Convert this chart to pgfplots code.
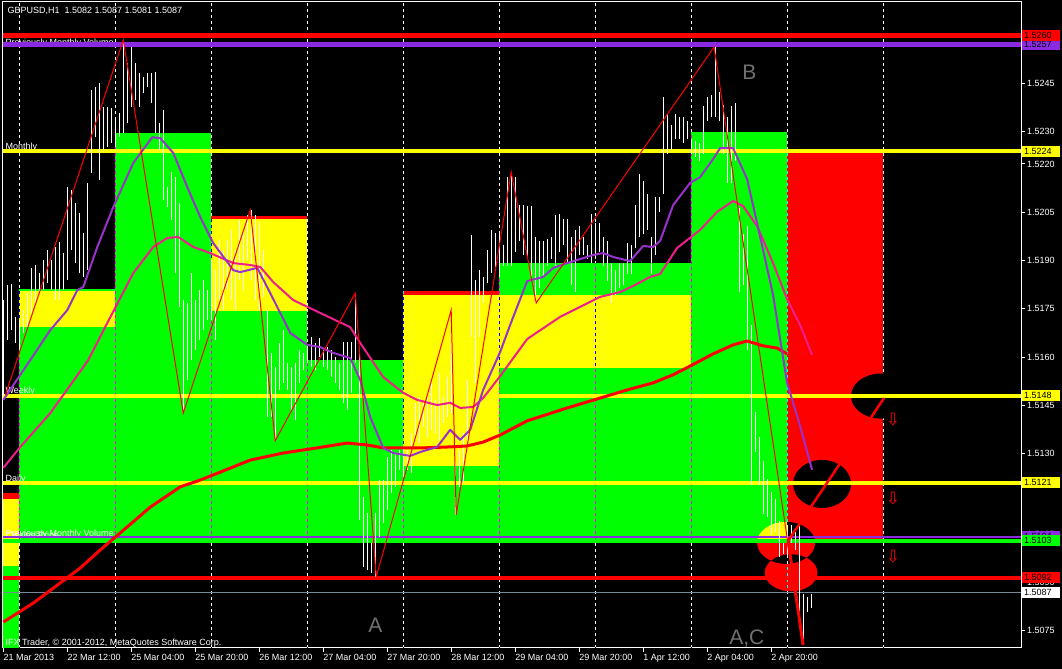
\documentclass[border=0pt]{standalone}
\usepackage{fontspec}
\setmainfont{Liberation Sans}
\newfontfamily\symfont{DejaVu Sans}
\usepackage{pgfplots}
\usepackage{pgfplotstable}
\pgfplotsset{compat=1.18}
\definecolor{mtgreen}{RGB}{0,255,0}
\definecolor{mtyellow}{RGB}{255,255,0}
\definecolor{mtred}{RGB}{255,0,0}
\definecolor{mtviolet}{RGB}{138,43,226}
\definecolor{maviolet}{RGB}{153,50,204}
\definecolor{mapink}{RGB}{240,30,140}
\definecolor{bidgray}{RGB}{119,136,153}
\definecolor{lblgray}{RGB}{112,112,112}
\newcommand{\sm}{\fontsize{9}{10}\selectfont}

% hourly bars: bar index, low, high
\pgfplotstableread{
b lo hi
0 1.51482 1.51776
1 1.51653 1.51824
2 1.51684 1.51827
3 1.51644 1.51724
4 1.51622 1.51715
5 1.51675 1.51746
6 1.51694 1.51799
7 1.51737 1.51877
8 1.51756 1.51886
9 1.51799 1.51861
10 1.51808 1.51902
11 1.51830 1.51933
12 1.51808 1.51902
13 1.51777 1.51942
14 1.51777 1.51957
15 1.51808 1.51923
16 1.51839 1.52128
17 1.51933 1.52119
18 1.51892 1.52079
19 1.51861 1.52047
20 1.51849 1.51985
21 1.51870 1.52141
22 1.52172 1.52429
23 1.52283 1.52439
24 1.52150 1.52451
25 1.52243 1.52377
26 1.52253 1.52377
27 1.52265 1.52374
28 1.52253 1.52346
29 1.52283 1.52358
30 1.52296 1.52585
31 1.52327 1.52513
32 1.52377 1.52563
33 1.52398 1.52513
34 1.52377 1.52482
35 1.52420 1.52470
36 1.52439 1.52482
37 1.52389 1.52482
38 1.52296 1.52485
39 1.52243 1.52327
40 1.52088 1.52367
41 1.52066 1.52128
42 1.52026 1.52175
43 1.51861 1.52159
44 1.51756 1.52079
45 1.51426 1.51777
46 1.51529 1.51768
47 1.51591 1.51861
48 1.51622 1.51777
49 1.51653 1.51808
50 1.51684 1.51839
51 1.51715 1.51808
52 1.51715 1.51902
53 1.51653 1.51870
54 1.51777 1.51964
55 1.51746 1.51933
56 1.51808 1.51964
57 1.51777 1.51995
58 1.51746 1.51933
59 1.51839 1.52026
60 1.51808 1.51995
61 1.51902 1.52041
62 1.51839 1.52057
63 1.51777 1.52041
64 1.51746 1.52020
65 1.51787 1.51933
66 1.51414 1.51746
67 1.51414 1.51613
68 1.51340 1.51569
69 1.51498 1.51644
70 1.51520 1.51684
71 1.51498 1.51582
72 1.51436 1.51569
73 1.51405 1.51582
74 1.51520 1.51622
75 1.51560 1.51613
76 1.51582 1.51631
77 1.51569 1.51662
78 1.51560 1.51644
79 1.51600 1.51659
80 1.51569 1.51622
81 1.51560 1.51631
82 1.51538 1.51622
83 1.51520 1.51600
84 1.51498 1.51582
85 1.51458 1.51647
86 1.51436 1.51647
87 1.51489 1.51647
88 1.51582 1.51796
89 1.51094 1.51622
90 1.50948 1.51166
91 1.50939 1.51116
92 1.50930 1.51023
93 1.50917 1.51116
94 1.51041 1.51218
95 1.51085 1.51218
96 1.51125 1.51290
97 1.51178 1.51312
98 1.51197 1.51302
99 1.51250 1.51312
100 1.51228 1.51321
101 1.51250 1.51312
102 1.51240 1.51364
103 1.51343 1.51458
104 1.51333 1.51476
105 1.51383 1.51458
106 1.51352 1.51476
107 1.51374 1.51520
108 1.51364 1.51467
109 1.51343 1.51551
110 1.51395 1.51476
111 1.51414 1.51538
112 1.51426 1.51746
113 1.51110 1.51271
114 1.51197 1.51312
115 1.51209 1.51364
116 1.51343 1.51529
117 1.51662 1.51979
118 1.51520 1.51839
119 1.51662 1.51870
120 1.51768 1.51849
121 1.51830 1.51933
122 1.51861 1.51995
123 1.51880 1.51985
124 1.51849 1.51985
125 1.51883 1.51948
126 1.51883 1.52159
127 1.51883 1.52172
128 1.51926 1.52159
129 1.51961 1.52072
130 1.51917 1.52072
131 1.51905 1.52069
132 1.51836 1.52069
133 1.51768 1.51973
134 1.51815 1.51961
135 1.51849 1.51961
136 1.51883 1.51967
137 1.51905 1.51973
138 1.51883 1.52041
139 1.51926 1.52044
140 1.51948 1.52029
141 1.51892 1.52029
142 1.51824 1.51973
143 1.51802 1.51995
144 1.51917 1.52007
145 1.51917 1.51973
146 1.51905 1.51948
147 1.51892 1.52044
148 1.51905 1.52016
149 1.51926 1.52016
150 1.51883 1.51973
151 1.51836 1.51961
152 1.51768 1.51892
153 1.51793 1.51870
154 1.51815 1.51892
155 1.51824 1.51892
156 1.51858 1.51954
157 1.51858 1.51948
158 1.51939 1.52072
159 1.51973 1.52169
160 1.51982 1.52147
161 1.51995 1.52107
162 1.51858 1.51973
163 1.51917 1.52097
164 1.52051 1.52097
165 1.52107 1.52408
166 1.52231 1.52355
167 1.52243 1.52321
168 1.52277 1.52355
169 1.52277 1.52346
170 1.52265 1.52346
171 1.52277 1.52333
172 1.52231 1.52277
173 1.52221 1.52271
174 1.52209 1.52265
175 1.52231 1.52380
176 1.52333 1.52408
177 1.52346 1.52414
178 1.52346 1.52563
179 1.52333 1.52423
180 1.52231 1.52383
181 1.52141 1.52346
182 1.52141 1.52380
183 1.52209 1.52389
184 1.51802 1.52063
185 1.51824 1.51982
186 1.51622 1.52007
187 1.51203 1.51700
188 1.51305 1.51430
189 1.51203 1.51352
190 1.51113 1.51278
191 1.51104 1.51221
192 1.51048 1.51181
193 1.51057 1.51159
194 1.50979 1.51091
195 1.50989 1.51023
196 1.50979 1.51069
197 1.51023 1.51079
198 1.51001 1.51057
199 1.50799 1.51079
200 1.50706 1.50864
201 1.50808 1.50855
202 1.50821 1.50864
}\bars

\pgfplotstableread{
b p
0 1.51467
6.75 1.51591
11.75 1.51684
16 1.51746
18.5 1.51808
20 1.51818
23.5 1.51942
27.5 1.52066
32.5 1.52203
37.25 1.52283
39.25 1.52280
42.5 1.52234
46 1.52128
49.25 1.52035
52.5 1.51954
57.5 1.51870
59.25 1.51864
63.5 1.51877
66.75 1.51799
71.75 1.51675
76 1.51638
79.25 1.51631
82.5 1.51613
86.75 1.51597
89.25 1.51529
91.75 1.51414
95 1.51318
97.5 1.51302
101.75 1.51293
104.25 1.51305
108.5 1.51321
111.75 1.51374
114.25 1.51343
116.75 1.51374
120 1.51498
124.25 1.51616
126.75 1.51700
131 1.51836
135 1.51849
137.5 1.51877
141 1.51892
147.5 1.51917
150 1.51923
152.5 1.51911
156.75 1.51898
160 1.51945
162.5 1.51942
164.25 1.51961
167.5 1.52072
171.75 1.52141
174.25 1.52159
177.5 1.52215
179.25 1.52249
182.5 1.52249
186 1.52153
188.5 1.52016
192.5 1.51793
196 1.51520
199.25 1.51386
202.25 1.51250
}\mafast

\pgfplotstableread{
b p
0 1.51256
4.25 1.51321
11.75 1.51426
21.25 1.51591
26 1.51706
32.5 1.51861
37.5 1.51942
41 1.51970
43.75 1.51973
47.5 1.51942
51.75 1.51923
57.5 1.51892
61.75 1.51886
64.25 1.51880
67.5 1.51833
72.5 1.51777
79.25 1.51737
86.75 1.51693
89.25 1.51644
95 1.51538
100 1.51489
103.5 1.51467
108.5 1.51451
111.75 1.51458
114.25 1.51442
117.5 1.51445
120 1.51473
124.25 1.51541
131 1.51656
139.25 1.51725
149.25 1.51787
154.25 1.51802
157.5 1.51821
161.75 1.51849
164.25 1.51858
168.5 1.51939
174.25 1.51995
178.5 1.52051
182.5 1.52085
185 1.52069
188.5 1.52007
192.5 1.51892
196 1.51780
199.25 1.51700
202.25 1.51607
}\mamid

\pgfplotstableread{
b p
0 1.50777
7.5 1.50836
19.25 1.50945
24.25 1.51001
29.25 1.51054
36.75 1.51134
44.25 1.51197
49.25 1.51218
61.75 1.51280
70 1.51302
78.5 1.51318
86 1.51333
91 1.51327
95 1.51318
105 1.51318
111.75 1.51321
116 1.51324
120 1.51336
124.25 1.51358
131 1.51402
141 1.51442
148.5 1.51470
156 1.51498
162.5 1.51520
167.5 1.51545
171.75 1.51572
177.5 1.51610
182.5 1.51638
186 1.51650
190 1.51635
193.5 1.51628
196 1.51610
}\maslow

\pgfplotstableread{
b p
0.5 1.51482
30 1.52585
45 1.51426
61.75 1.52057
68 1.51340
88 1.51799
93.25 1.50917
112 1.51746
113.25 1.51110
127 1.52175
133.25 1.51768
177.75 1.52563
200 1.50706
}\zigzag

\begin{document}
\begin{tikzpicture}[x=1pt,y=1pt]
\fill[black] (0,0) rectangle (1062,669);
\begin{axis}[
  at={(2pt,21pt)}, anchor=south west,
  scale only axis, width=1019pt, height=646pt,
  xmin=-0.25, xmax=254.5, ymin=1.50697, ymax=1.52703,
  clip=false,
  axis line style={white, line width=1pt},
  tick style={white, line width=1pt},
  major tick length=4pt,
  tick align=outside,
  xtick pos=bottom, ytick pos=right,
  yticklabel pos=right,
  xtick={0,16,...,192},
  xticklabels={21 Mar 2013,22 Mar 12:00,25 Mar 04:00,25 Mar 20:00,26 Mar 12:00,27 Mar 04:00,27 Mar 20:00,28 Mar 12:00,29 Mar 04:00,29 Mar 20:00,1 Apr 12:00,2 Apr 04:00,2 Apr 20:00},
  ytick={1.5075,1.5090,1.5105,1.5120,1.5130,1.5145,1.5160,1.5175,1.5190,1.5205,1.5220,1.5230,1.5245},
  yticklabels={1.5075,1.5090,1.5105,1.5120,1.5130,1.5145,1.5160,1.5175,1.5190,1.5205,1.5220,1.5230,1.5245},
  xticklabel style={white, font=\sm, anchor=north west, inner sep=0pt, xshift=0pt, yshift=-2pt},
  yticklabel style={white, font=\sm, anchor=west, inner sep=0pt, xshift=2pt},
]
% ---- daily zones
% 21 Mar
\addplot[fill=mtgreen, draw=none] coordinates {(0,1.50697) (4,1.50697) (4,1.50951) (0,1.50951)};
\addplot[fill=mtyellow, draw=none] coordinates {(0,1.50951) (4,1.50951) (4,1.51160) (0,1.51160)};
\addplot[fill=mtred, draw=none] coordinates {(0,1.51160) (4,1.51160) (4,1.51178) (0,1.51178)};
% 22 Mar
\addplot[fill=mtgreen, draw=none] coordinates {(4,1.51029) (28,1.51029) (28,1.51694) (4,1.51694)};
\addplot[fill=mtyellow, draw=none] coordinates {(4,1.51694) (28,1.51694) (28,1.51805) (4,1.51805)};
\addplot[fill=mtgreen, draw=none] coordinates {(4,1.51805) (28,1.51805) (28,1.51812) (4,1.51812)};
% 25 Mar
\addplot[fill=mtgreen, draw=none] coordinates {(28,1.51029) (52,1.51029) (52,1.52296) (28,1.52296)};
% 26 Mar
\addplot[fill=mtgreen, draw=none] coordinates {(52,1.51029) (76,1.51029) (76,1.51743) (52,1.51743)};
\addplot[fill=mtyellow, draw=none] coordinates {(52,1.51743) (76,1.51743) (76,1.52029) (52,1.52029)};
\addplot[fill=mtred, draw=none] coordinates {(52,1.52029) (76,1.52029) (76,1.52038) (52,1.52038)};
% 27 Mar
\addplot[fill=mtgreen, draw=none] coordinates {(76,1.51029) (100,1.51029) (100,1.51591) (76,1.51591)};
% 28 Mar
\addplot[fill=mtgreen, draw=none] coordinates {(100,1.51029) (124,1.51029) (124,1.51262) (100,1.51262)};
\addplot[fill=mtyellow, draw=none] coordinates {(100,1.51262) (124,1.51262) (124,1.51793) (100,1.51793)};
\addplot[fill=mtred, draw=none] coordinates {(100,1.51793) (124,1.51793) (124,1.51805) (100,1.51805)};
% 29 Mar - 1 Apr
\addplot[fill=mtgreen, draw=none] coordinates {(124,1.51029) (172,1.51029) (172,1.51566) (124,1.51566)};
\addplot[fill=mtyellow, draw=none] coordinates {(124,1.51566) (172,1.51566) (172,1.51793) (124,1.51793)};
\addplot[fill=mtgreen, draw=none] coordinates {(124,1.51793) (172,1.51793) (172,1.51892) (124,1.51892)};
% 2 Apr
\addplot[fill=mtgreen, draw=none] coordinates {(172,1.51029) (196,1.51029) (196,1.52299) (172,1.52299)};
% 3 Apr
\addplot[fill=mtred, draw=none] coordinates {(196,1.51029) (220,1.51029) (220,1.52234) (196,1.52234)};

% ---- line captions
\node[anchor=base west, white, font=\sm, inner sep=0pt] at (axis cs:0.5,1.52569) {Previously Monthly Volume};
\node[anchor=base west, white, font=\sm, inner sep=0pt] at (axis cs:0.5,1.52246) {Monthly};
\node[anchor=base west, white, font=\sm, inner sep=0pt] at (axis cs:0.5,1.51487) {Weekly};
\node[anchor=base west, white, font=\sm, inner sep=0pt] at (axis cs:0.5,1.51215) {Daily};
\node[anchor=base west, white, font=\sm, inner sep=0pt] at (axis cs:0.5,1.51044) {Previously Monthly Volume};
\node[anchor=base west, white, font=\sm, inner sep=0pt] at (axis cs:0.5,1.51035) {Closing Price};

% ---- day separators
\pgfplotsinvokeforeach{4,28,52,76,100,124,148,172,196,220}{
  \draw[white, line width=1pt, dash pattern=on 3pt off 3pt, blend mode=difference]
    (axis cs:#1,1.50697) -- (axis cs:#1,1.52703);
}

% ---- ellipse objects
\fill[black] (axis cs:219.5,1.51479) ellipse [x radius=7.5, y radius=0.000700];
\fill[black] (axis cs:204.75,1.51206) ellipse [x radius=7.25, y radius=0.000745];
\fill[mtred, blend mode=difference] (axis cs:195.75,1.51023) ellipse [x radius=7.25, y radius=0.000652];
\fill[mtred, blend mode=difference] (axis cs:197,1.50930) ellipse [x radius=6.6, y radius=0.000575];

% ---- horizontal levels
\addplot[mtred, line width=5pt] coordinates {(0,1.5260) (254.5,1.5260)};
\addplot[mtviolet, line width=5pt] coordinates {(0,1.5257) (254.5,1.5257)};
\addplot[mtyellow, line width=4pt] coordinates {(0,1.5224) (254.5,1.5224)};
\addplot[mtyellow, line width=4pt] coordinates {(0,1.5148) (254.5,1.5148)};
\addplot[mtyellow, line width=4pt] coordinates {(0,1.5121) (254.5,1.5121)};
\addplot[mtviolet, line width=2pt] coordinates {(0,1.51042) (254.5,1.51042)};
\addplot[mtgreen, line width=4pt] coordinates {(0,1.5103) (254.5,1.5103)};
\addplot[mtred, line width=4pt] coordinates {(0,1.50915) (254.5,1.50915)};
\addplot[bidgray, line width=1pt] coordinates {(0,1.5087) (254.5,1.5087)};

% ---- price bars (high-low ranges)
\addplot[draw=none, mark=none,
  error bars/.cd, y dir=plus, y explicit, error mark=none,
  error bar style={draw=white, solid, line width=1pt}]
  table[x=b, y=lo, y error expr=\thisrow{hi}-\thisrow{lo}] {\bars};

% ---- moving averages and zigzag
\addplot[mtred, line width=3pt, line join=round] table[x=b, y=p] {\maslow};
\addplot[mapink, line width=2pt, line join=round] table[x=b, y=p] {\mamid};
\addplot[maviolet, line width=2pt, line join=round] table[x=b, y=p] {\mafast};
\addplot[mtred, line width=1pt] table[x=b, y=p] {\zigzag};
\addplot[mtred, line width=3pt] coordinates {(200,1.50706) (196.25,1.51029)};
\addplot[mtred, line width=2.5pt] coordinates {(196.25,1.51029) (220.25,1.51473)};

% ---- letters and arrows
\node[anchor=base west, lblgray, font=\fontsize{21}{21}\selectfont, inner sep=0pt] at (axis cs:91.25,1.50746) {A};
\node[anchor=base west, lblgray, font=\fontsize{21}{21}\selectfont, inner sep=0pt] at (axis cs:184.75,1.52461) {B};
\node[anchor=base west, lblgray, font=\fontsize{21}{21}\selectfont, inner sep=0pt] at (axis cs:181.5,1.50706) {A,C};
\node[mtred, font=\symfont\fontsize{17}{17}\selectfont, inner sep=0pt] at (axis cs:222.5,1.51405) {⇩};
\node[mtred, font=\symfont\fontsize{17}{17}\selectfont, inner sep=0pt] at (axis cs:222.5,1.51162) {⇩};
\node[mtred, font=\symfont\fontsize{17}{17}\selectfont, inner sep=0pt] at (axis cs:222.5,1.50979) {⇩};

% ---- header and footer
\node[anchor=base west, white, font=\sm, inner sep=0pt] at (axis cs:1,1.52666) {GBPUSD,H1\ \ 1.5082 1.5087 1.5081 1.5087};
\node[anchor=base west, white, font=\sm, inner sep=0pt] at (axis cs:0.5,1.50703) {IFX Trader, © 2001-2012, MetaQuotes Software Corp.};

% ---- anchors for price labels
\coordinate (q5260) at (axis cs:254.5,1.5260);
\coordinate (q5257) at (axis cs:254.5,1.5257);
\coordinate (q5224) at (axis cs:254.5,1.5224);
\coordinate (q5148) at (axis cs:254.5,1.5148);
\coordinate (q5121) at (axis cs:254.5,1.5121);
\coordinate (q5104) at (axis cs:254.5,1.51042);
\coordinate (q5103) at (axis cs:254.5,1.5103);
\coordinate (q5092) at (axis cs:254.5,1.50915);
\coordinate (q5087) at (axis cs:254.5,1.5087);
\end{axis}
\tikzset{pbox/.style={anchor=west, xshift=1pt, inner xsep=2pt, inner ysep=0pt,
  minimum height=11pt, text width=34pt, font=\sm, text=black}}
\node[pbox, fill=mtviolet] at (q5257) {1.5257};
\node[pbox, fill=mtred] at (q5260) {1.5260};
\node[pbox, fill=mtyellow] at (q5224) {1.5224};
\node[pbox, fill=mtyellow] at (q5148) {1.5148};
\node[pbox, fill=mtyellow] at (q5121) {1.5121};
\node[pbox, fill=mtviolet] at (q5104) {1.5104};
\node[pbox, fill=mtgreen] at (q5103) {1.5103};
\node[pbox, fill=mtred] at (q5092) {1.5092};
\node[pbox, fill=white] at (q5087) {1.5087};
\end{tikzpicture}
\end{document}
